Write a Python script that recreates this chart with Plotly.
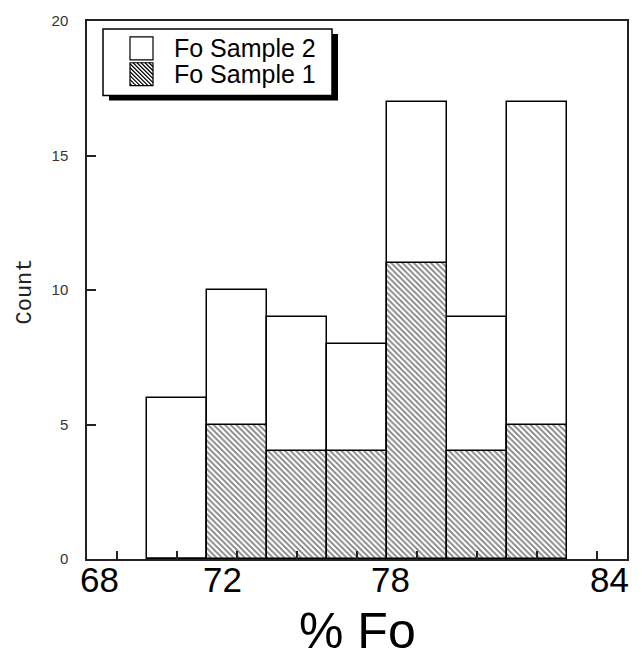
import plotly.graph_objects as go

# ---- data ----
bin_centers = [70, 72, 74, 76, 78, 80, 82]
sample2_counts = [6, 10, 9, 8, 17, 9, 17]
sample1_counts = [0, 5, 4, 4, 11, 4, 5]
x_ticks = [68, 70, 72, 74, 76, 78, 80, 82, 84]
x_tick_labels = ["68", "72", "78", "84"]
x_label_at = [67.41, 71.52, 77.13, 84.4]
y_ticks = [0, 5, 10, 15, 20]
legend_names = ["Fo Sample 2", "Fo Sample 1"]

W, H = 642, 658
L, R, T, B = 87, 15, 18, 99
PW, PH = W - L - R, H - T - B


def pxx(px):
    return (px - L) / PW


def pxy(py):
    return (H - B - py) / PH


fig = go.Figure()
fig.add_trace(go.Bar(
    x=bin_centers, y=sample2_counts, width=2, name=legend_names[0],
    marker=dict(color="white", line=dict(color="black", width=1.5)),
))
fig.add_trace(go.Bar(
    x=bin_centers, y=sample1_counts, width=2, name=legend_names[1],
    marker=dict(color="white", line=dict(color="black", width=1.5),
                pattern=dict(shape="\\", size=4, solidity=0.45,
                             fgcolor="black", bgcolor="white")),
))

annotations = []
for lab, pos in zip(x_tick_labels, x_label_at):
    annotations.append(dict(x=pos, y=pxy(580), xref="x", yref="paper",
                            text=lab, showarrow=False, xanchor="center",
                            yanchor="middle",
                            font=dict(family="Liberation Sans, Arial", size=35,
                                      color="black")))
annotations.append(dict(x=0.5, y=pxy(631), xref="paper", yref="paper",
                        text="% Fo", showarrow=False, xanchor="center",
                        yanchor="middle",
                        font=dict(family="Liberation Sans, Arial", size=50,
                                  color="black")))
annotations.append(dict(x=pxx(25), y=pxy(290), xref="paper", yref="paper",
                        text="Count", showarrow=False, textangle=-90,
                        xanchor="center", yanchor="middle",
                        font=dict(family="Courier New, Liberation Mono, monospace",
                                  size=22, color="#222")))

# custom legend with drop shadow
shapes = []
bx0, by0, bx1, by1 = 103, 26, 332, 93
shapes.append(dict(type="rect", xref="paper", yref="paper",
                   x0=pxx(bx0 + 6), x1=pxx(bx1 + 6), y0=pxy(by0 + 5), y1=pxy(by1 + 5),
                   fillcolor="black", line=dict(width=0), layer="above"))
shapes.append(dict(type="rect", xref="paper", yref="paper",
                   x0=pxx(bx0), x1=pxx(bx1), y0=pxy(by0), y1=pxy(by1),
                   fillcolor="white", line=dict(color="black", width=1.5),
                   layer="above"))
sw = [(130, 34, 153, 57), (130, 60, 153, 83)]
for i, (x0, y0, x1, y1) in enumerate(sw):
    shapes.append(dict(type="rect", xref="paper", yref="paper",
                       x0=pxx(x0), x1=pxx(x1), y0=pxy(y0), y1=pxy(y1),
                       fillcolor="white", line=dict(color="black", width=1.2),
                       layer="above"))
    annotations.append(dict(x=pxx(172), y=pxy((y0 + y1) / 2), xref="paper",
                            yref="paper", text=legend_names[i], showarrow=False,
                            xanchor="left", yanchor="middle",
                            font=dict(family="Liberation Sans, Arial", size=25,
                                      color="black")))
# hatch lines in the second swatch (down-right diagonals)
x0, y0, x1, y1 = sw[1]
segs = []
c = -(x1 - x0)
while c < (y1 - y0):
    xs = max(0, -c)
    xe = min(x1 - x0, (y1 - y0) - c)
    if xe > xs:
        segs.append(((x0 + xs, y0 + xs + c), (x0 + xe, y0 + xe + c)))
    c += 4
path = " ".join(f"M{pxx(a[0])},{pxy(a[1])} L{pxx(b[0])},{pxy(b[1])}" for a, b in segs)
shapes.append(dict(type="path", xref="paper", yref="paper", path=path,
                   line=dict(color="black", width=1.2), layer="above"))

fig.update_layout(
    width=W, height=H,
    margin=dict(l=L, r=R, t=T, b=B),
    paper_bgcolor="white", plot_bgcolor="white",
    barmode="overlay", bargap=0, showlegend=False,
    shapes=shapes, annotations=annotations,
)
fig.update_xaxes(range=[67, 85], tickvals=x_ticks, showticklabels=False,
                 ticks="inside", ticklen=8, tickwidth=1.5, tickcolor="#222",
                 showline=True, linecolor="#222", linewidth=1.5, mirror=True,
                 showgrid=False, zeroline=False)
fig.update_yaxes(range=[0, 20], tickvals=y_ticks, ticks="inside", ticklen=9,
                 tickwidth=1.5, tickcolor="#222",
                 tickfont=dict(family="Liberation Sans, Arial", size=15,
                               color="#333"),
                 ticklabelstandoff=14,
                 showline=True, linecolor="#222", linewidth=1.5, mirror=True,
                 showgrid=False, zeroline=False)

fig.write_html("out.html",
               config={"displayModeBar": False},
               post_script="document.body.style.margin='0px';"
                           "document.body.style.overflow='hidden';")
